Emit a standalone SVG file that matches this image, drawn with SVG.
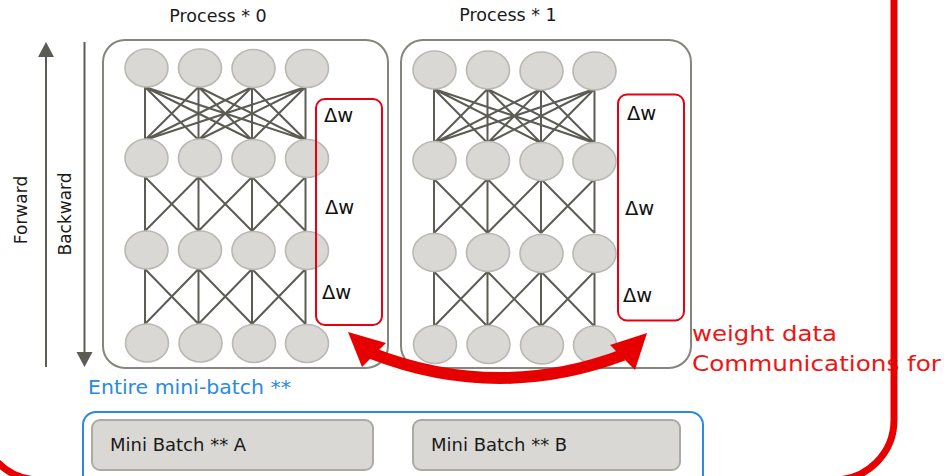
<svg xmlns="http://www.w3.org/2000/svg" width="944" height="476" viewBox="0 0 944 476">
<defs>
<style>
text{font-family:"DejaVu Sans","Noto Sans",sans-serif;}
.lbl{font-size:17.5px;fill:#1a1a1a;}
.side{font-size:17px;fill:#1a1a1a;}
.dw{font-size:19.5px;fill:#111;}
.box{fill:#fff;stroke:#85857d;stroke-width:2;}
.n{fill:#d9d8d4;stroke:#b9b8b2;stroke-width:1.6;}
.ln{stroke:#5c5c55;stroke-width:2;fill:none;}
.rbox{fill:none;stroke:#e60012;stroke-width:2;}
.red{fill:#e60000;}
.mb{fill:#d9d8d4;stroke:#abaaa5;stroke-width:2;}
.mbt{font-size:18px;fill:#1a1a1a;}
</style>
</defs>
<rect width="944" height="476" fill="#fff"/>

<g id="process0">
<rect class="box" x="103" y="40" width="285" height="328" rx="22"/>
<text class="lbl" x="218" y="22" text-anchor="middle">Process * 0</text>
</g>
<g id="process1">
<rect class="box" x="401" y="40" width="290" height="328" rx="22"/>
<text class="lbl" x="508" y="21" text-anchor="middle">Process * 1</text>
</g>

<g id="connectors">
<!-- box 0 full connection -->
<path class="ln" d="M145 87L145 140M145 87L198.5 140M145 87L252 140M145 87L305.5 140
M198.5 87L145 140M198.5 87L198.5 140M198.5 87L252 140M198.5 87L305.5 140
M252 87L145 140M252 87L198.5 140M252 87L252 140M252 87L305.5 140
M305.5 87L145 140M305.5 87L198.5 140M305.5 87L252 140M305.5 87L305.5 140"/>
<path class="ln" d="M145 177L145 231M145 177L198.5 231M198.5 177L145 231M198.5 177L198.5 231M198.5 177L252 231M252 177L198.5 231M252 177L252 231M252 177L305.5 231M305.5 177L252 231M305.5 177L305.5 231"/>
<path class="ln" d="M145 269L145 324M145 269L198.5 324M198.5 269L145 324M198.5 269L198.5 324M198.5 269L252 324M252 269L198.5 324M252 269L252 324M252 269L305.5 324M305.5 269L252 324M305.5 269L305.5 324"/>
<!-- box 1 -->
<path class="ln" d="M434 89L434 143M434 89L487.5 143M434 89L541 143M434 89L594.5 143
M487.5 89L434 143M487.5 89L487.5 143M487.5 89L541 143M487.5 89L594.5 143
M541 89L434 143M541 89L487.5 143M541 89L541 143M541 89L594.5 143
M594.5 89L434 143M594.5 89L487.5 143M594.5 89L541 143M594.5 89L594.5 143"/>
<path class="ln" d="M434 179L434 233M434 179L487.5 233M487.5 179L434 233M487.5 179L487.5 233M487.5 179L541 233M541 179L487.5 233M541 179L541 233M541 179L594.5 233M594.5 179L541 233M594.5 179L594.5 233"/>
<path class="ln" d="M434 271.5L434 326.5M434 271.5L487.5 326.5M487.5 271.5L434 326.5M487.5 271.5L487.5 326.5M487.5 271.5L541 326.5M541 271.5L487.5 326.5M541 271.5L541 326.5M541 271.5L594.5 326.5M594.5 271.5L541 326.5M594.5 271.5L594.5 326.5"/>
<!-- forward / backward arrows -->
<line x1="46" y1="367" x2="46" y2="55" stroke="#5c5c55" stroke-width="2"/>
<polygon points="46,42 38,57 54,57" fill="#5c5c55"/>
<line x1="84.5" y1="42" x2="84.5" y2="354" stroke="#5c5c55" stroke-width="2"/>
<polygon points="84.5,367 76.5,352 92.5,352" fill="#5c5c55"/>
</g>

<g id="nodes0">
<ellipse class="n" cx="146.5" cy="68" rx="21.5" ry="19"/>
<ellipse class="n" cx="200" cy="68" rx="21.5" ry="19"/>
<ellipse class="n" cx="253.5" cy="68.5" rx="21.5" ry="19"/>
<ellipse class="n" cx="307" cy="68.5" rx="21.5" ry="19"/>
<ellipse class="n" cx="146.5" cy="158" rx="21.5" ry="19"/>
<ellipse class="n" cx="200" cy="158" rx="21.5" ry="19"/>
<ellipse class="n" cx="253.5" cy="158.5" rx="21.5" ry="19"/>
<ellipse class="n" cx="307" cy="158.5" rx="21.5" ry="19"/>
<ellipse class="n" cx="146.5" cy="250" rx="21.5" ry="19"/>
<ellipse class="n" cx="200" cy="250" rx="21.5" ry="19"/>
<ellipse class="n" cx="253.5" cy="250.5" rx="21.5" ry="19"/>
<ellipse class="n" cx="307" cy="250.5" rx="21.5" ry="19"/>
<ellipse class="n" cx="147" cy="343" rx="21.5" ry="19"/>
<ellipse class="n" cx="200.5" cy="343" rx="21.5" ry="19"/>
<ellipse class="n" cx="254" cy="343.5" rx="21.5" ry="19"/>
<ellipse class="n" cx="307" cy="343.5" rx="21.5" ry="19"/>
</g>
<g id="nodes1">
<ellipse class="n" cx="434.5" cy="70" rx="21.5" ry="19"/>
<ellipse class="n" cx="488" cy="70" rx="21.5" ry="19"/>
<ellipse class="n" cx="541.5" cy="71" rx="21.5" ry="19"/>
<ellipse class="n" cx="594.5" cy="71" rx="21.5" ry="19"/>
<ellipse class="n" cx="434.5" cy="160.5" rx="21.5" ry="19"/>
<ellipse class="n" cx="488" cy="160.5" rx="21.5" ry="19"/>
<ellipse class="n" cx="541.5" cy="161.5" rx="21.5" ry="19"/>
<ellipse class="n" cx="594.5" cy="161.5" rx="21.5" ry="19"/>
<ellipse class="n" cx="434.5" cy="252.5" rx="21.5" ry="19"/>
<ellipse class="n" cx="488" cy="252.5" rx="21.5" ry="19"/>
<ellipse class="n" cx="541.5" cy="253.5" rx="21.5" ry="19"/>
<ellipse class="n" cx="594.5" cy="253.5" rx="21.5" ry="19"/>
<ellipse class="n" cx="435" cy="344.5" rx="21.5" ry="19"/>
<ellipse class="n" cx="488.5" cy="344.5" rx="21.5" ry="19"/>
<ellipse class="n" cx="542" cy="345" rx="21.5" ry="19"/>
<ellipse class="n" cx="595" cy="345" rx="21.5" ry="19"/>
</g>

<g id="dw0">
<rect class="rbox" x="316" y="99" width="66" height="226" rx="9"/>
<text class="dw" x="324" y="122">Δw</text>
<text class="dw" x="325" y="214">Δw</text>
<text class="dw" x="322" y="299">Δw</text>
</g>
<g id="dw1">
<rect class="rbox" x="618" y="94.5" width="66" height="226" rx="9"/>
<text class="dw" x="627" y="120">Δw</text>
<text class="dw" x="625" y="215">Δw</text>
<text class="dw" x="623" y="302">Δw</text>
</g>

<g id="labels">
<text class="side" transform="translate(27 210) rotate(-90)" text-anchor="middle">Forward</text>
<text class="side" transform="translate(71 214) rotate(-90)" text-anchor="middle">Backward</text>
</g>

<g id="minibatch">
<text x="88" y="394" font-size="19" fill="#2a8ae2" textLength="203" lengthAdjust="spacingAndGlyphs">Entire mini-batch **</text>
<rect x="83" y="412" width="620" height="90" rx="13" fill="none" stroke="#2a8ae2" stroke-width="2"/>
</g>
<g id="batchA">
<rect class="mb" x="92" y="420" width="281" height="50" rx="8"/>
<text class="mbt" x="110" y="451">Mini Batch ** A</text>
</g>
<g id="batchB">
<rect class="mb" x="413" y="420" width="267" height="50" rx="8"/>
<text class="mbt" x="431" y="451">Mini Batch ** B</text>
</g>

<g id="comm">
<path d="M371 353 Q497 402 623 355" fill="none" stroke="#e60000" stroke-width="12"/>
<polygon class="red" points="348,332 386,343 362,367"/>
<polygon class="red" points="647,333 610,345 635,370"/>
<text x="692" y="341" font-size="22" fill="#f01414" textLength="145" lengthAdjust="spacingAndGlyphs">weight data</text>
<text x="692" y="371" font-size="22" fill="#f01414" textLength="249" lengthAdjust="spacingAndGlyphs">Communications for</text>
</g>

<g id="frame">
<rect x="-20" y="-200" width="914" height="680" rx="60" fill="none" stroke="#e60000" stroke-width="7"/>
</g>
</svg>
